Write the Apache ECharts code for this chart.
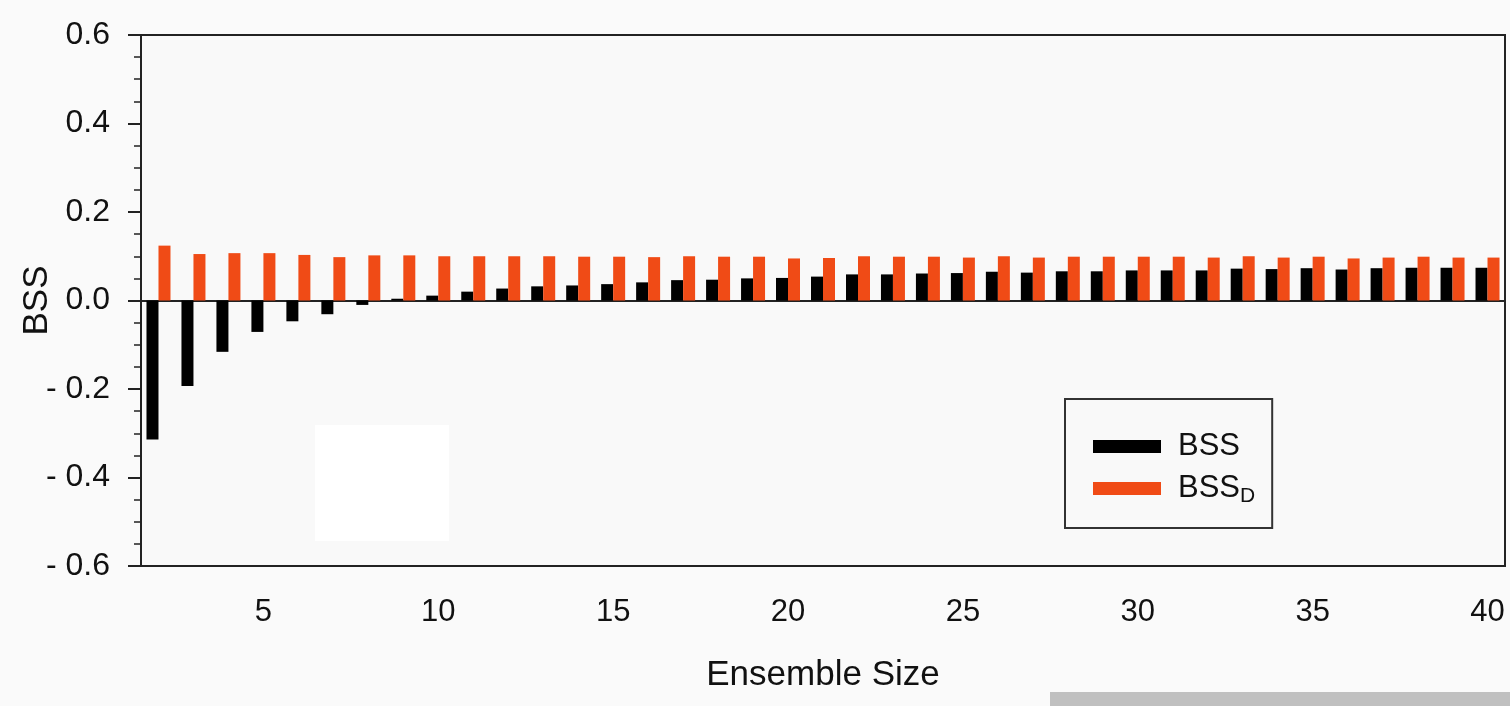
<!DOCTYPE html>
<html>
<head>
<meta charset="utf-8">
<script src="https://cdn.jsdelivr.net/npm/echarts@6/dist/echarts.min.js"></script>
<style>
  html, body { margin: 0; padding: 0; background: #fafafa; }
  #chart { width: 1510px; height: 706px; }
</style>
</head>
<body>
<div id="chart"></div>
<script>
// ensemble sizes 2..40
var ensembleSizes = ['2','3','4','5','6','7','8','9','10','11','12','13','14','15','16','17','18','19','20','21',
  '22','23','24','25','26','27','28','29','30','31','32','33','34','35','36','37','38','39','40'];

// BSS (black bars)
var bssValues = [-0.314, -0.193, -0.116, -0.071, -0.047, -0.031, -0.010, 0.004, 0.011, 0.020,
  0.027, 0.032, 0.034, 0.037, 0.041, 0.046, 0.047, 0.050, 0.051, 0.054,
  0.059, 0.059, 0.061, 0.062, 0.065, 0.063, 0.066, 0.066, 0.068, 0.068,
  0.068, 0.072, 0.071, 0.073, 0.070, 0.073, 0.074, 0.074, 0.074];

// BSS_D (orange bars)
var bssDValues = [0.124, 0.105, 0.107, 0.107, 0.103, 0.098, 0.102, 0.102, 0.100, 0.100,
  0.100, 0.100, 0.099, 0.099, 0.098, 0.100, 0.099, 0.099, 0.095, 0.096,
  0.100, 0.099, 0.099, 0.097, 0.100, 0.097, 0.099, 0.099, 0.099, 0.099,
  0.097, 0.100, 0.097, 0.099, 0.095, 0.097, 0.099, 0.097, 0.097];

var yTicks = [-0.6, -0.4, -0.2, 0.0, 0.2, 0.4, 0.6];

var font = 'Liberation Sans, Arial, Helvetica, sans-serif';
var ink = '#222';

var myChart = echarts.init(document.getElementById('chart'), null, { renderer: 'canvas' });

var option = {
  backgroundColor: '#fafafa',
  animation: false,
  textStyle: { fontFamily: font, color: '#111' },
  grid: {
    left: 141, right: 5, top: 35, bottom: 140,
    outerBoundsMode: 'none',
    show: true, borderColor: ink, borderWidth: 2, backgroundColor: '#f9f9f9'
  },
  legend: {
    orient: 'vertical',
    left: 1065, top: 399,
    padding: [32, 17, 21, 28],
    itemGap: 11,
    itemWidth: 68, itemHeight: 13,
    icon: 'rect',
    borderColor: '#333', borderWidth: 2,
    backgroundColor: '#f9f9f9',
    data: ['BSS', 'BSSD'],
    formatter: function (name) {
      return name === 'BSSD' ? '{m|BSS}{s|D}' : '{m|BSS}';
    },
    textStyle: {
      fontFamily: font, color: '#111', fontSize: 31,
      rich: {
        m: { fontSize: 31, fontFamily: font, color: '#111', padding: [0, 0, 0, 12] },
        s: { fontSize: 21, fontFamily: font, color: '#111', padding: [16, 0, 0, 0] }
      }
    }
  },
  xAxis: [
    {
      type: 'category',
      data: ensembleSizes,
      position: 'bottom',
      name: 'Ensemble Size',
      nameLocation: 'middle',
      nameGap: 92,
      nameMoveOverlap: false,
      nameTextStyle: { fontSize: 35, fontFamily: font, color: '#111' },
      axisLine: { onZero: false, lineStyle: { color: ink, width: 2 } },
      axisTick: {
        alignWithLabel: true, length: 18, lineStyle: { color: ink, width: 2 },
        interval: function (i, v) { return Number(v) % 5 === 0; }
      },
      axisLabel: {
        margin: 31, fontSize: 31, color: '#111', fontFamily: font,
        interval: function (i, v) { return Number(v) % 5 === 0; }
      },
      splitLine: { show: false }
    },
    {
      type: 'category',
      data: ensembleSizes,
      position: 'bottom',
      axisLine: { show: false, onZero: false },
      axisTick: { alignWithLabel: true, interval: 0, length: 9, lineStyle: { color: ink, width: 2 } },
      axisLabel: { show: false },
      splitLine: { show: false }
    },
    {
      // zero line
      type: 'category',
      data: ensembleSizes,
      position: 'bottom',
      axisLine: { show: true, onZero: true, lineStyle: { color: ink, width: 2 } },
      axisTick: { show: false },
      axisLabel: { show: false },
      splitLine: { show: false }
    }
  ],
  yAxis: {
    type: 'value',
    min: yTicks[0], max: yTicks[yTicks.length - 1], interval: 0.2,
    name: 'BSS',
    nameLocation: 'middle',
    nameGap: 86,
    nameMoveOverlap: false,
    nameRotate: 90,
    nameTextStyle: { fontSize: 35, fontFamily: font, color: '#111' },
    axisLine: { show: true, lineStyle: { color: ink, width: 2 } },
    axisTick: { show: true, length: 13, lineStyle: { color: ink, width: 2 } },
    minorTick: { show: true, splitNumber: 4, length: 7, lineStyle: { color: ink, width: 1.5 } },
    axisLabel: {
      margin: 31, fontSize: 32, color: '#111', fontFamily: font,
      formatter: function (v) {
        var r = Math.round(v * 10) / 10;
        return r < 0 ? '- ' + Math.abs(r).toFixed(1) : r.toFixed(1);
      }
    },
    splitLine: { show: false }
  },
  series: [
    {
      name: 'BSS', type: 'bar', xAxisIndex: 0,
      data: bssValues, barWidth: 12, barGap: '0%',
      itemStyle: { color: '#000000' }
    },
    {
      name: 'BSSD', type: 'bar', xAxisIndex: 0,
      data: bssDValues, barWidth: 12, barGap: '0%',
      itemStyle: { color: '#f04b16' }
    }
  ],
  graphic: [
    { type: 'rect', left: 315, top: 425, shape: { width: 134, height: 116 }, style: { fill: '#ffffff' }, z: 0 },
    { type: 'rect', left: 1050, top: 692, shape: { width: 460, height: 14 }, style: { fill: '#c0c0c0' }, z: 0 }
  ]
};

if (option && typeof option === 'object') {
  myChart.setOption(option);
}
window.addEventListener('resize', myChart.resize);
</script>
</body>
</html>
